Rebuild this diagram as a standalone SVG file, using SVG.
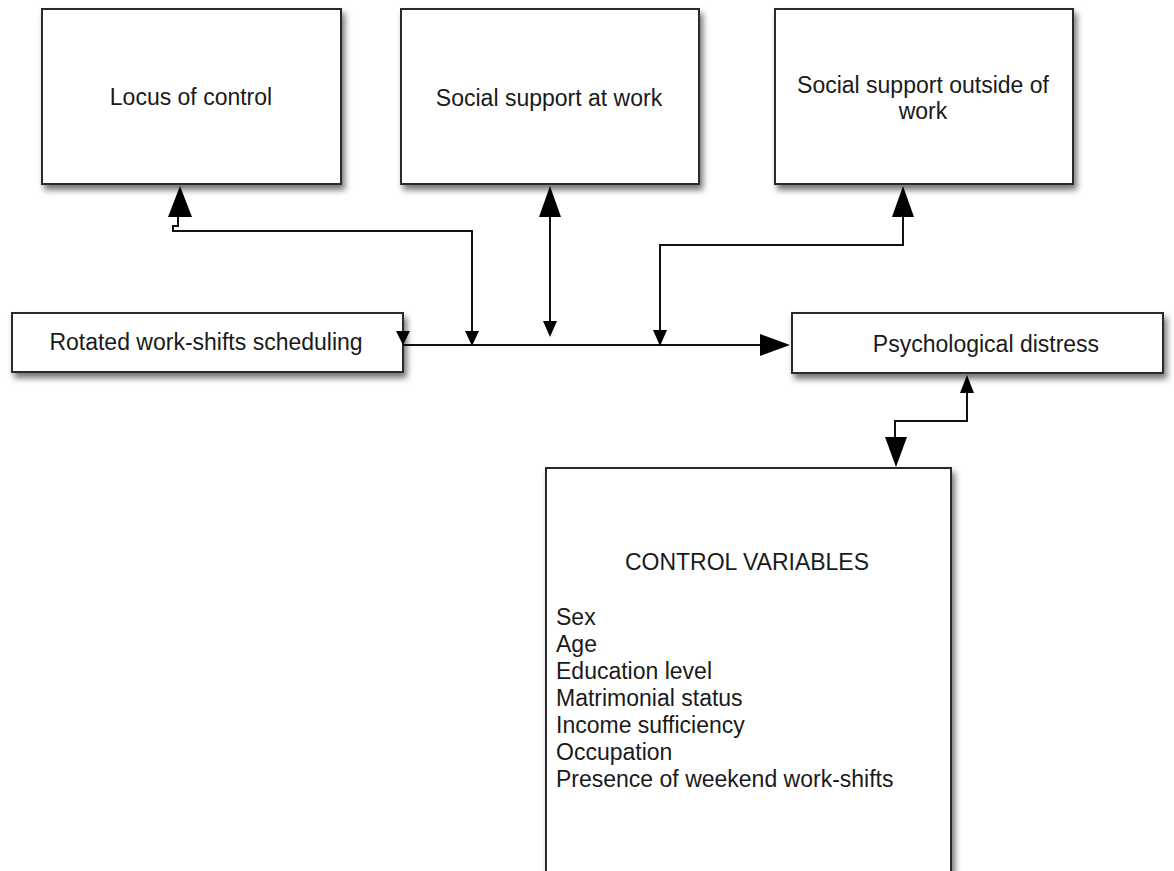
<svg xmlns="http://www.w3.org/2000/svg" width="1174" height="871" viewBox="0 0 1174 871">
<style>
.box{fill:#fff;stroke:#2a2a2a;stroke-width:2;filter:url(#sh)}
.t{font-family:"Liberation Sans",Arial,sans-serif;font-size:23px;fill:#1a1a1a}
.c{text-anchor:middle}
.ln{fill:none;stroke:#111;stroke-width:2}
.ah{fill:#000}
</style>
<defs>
<filter id="sh" x="-10%" y="-10%" width="125%" height="140%">
<feDropShadow dx="3" dy="5" stdDeviation="3" flood-color="#000" flood-opacity="0.55"/>
</filter>
</defs>
<rect width="1174" height="871" fill="#fff"/>
<g id="locus">
<rect class="box" x="42" y="9" width="299" height="175"/>
<text class="t c" x="191" y="105">Locus of control</text>
</g>
<g id="support-work">
<rect class="box" x="401" y="9" width="298" height="175"/>
<text class="t c" x="549" y="106">Social support at work</text>
</g>
<g id="support-outside">
<rect class="box" x="775" y="9" width="298" height="175"/>
<text class="t c" x="923" y="93">Social support outside of</text>
<text class="t c" x="923" y="119">work</text>
</g>
<g id="rotated">
<rect class="box" x="12" y="313" width="391" height="59"/>
<text class="t c" x="206" y="350">Rotated work-shifts scheduling</text>
</g>
<g id="distress">
<rect class="box" x="792" y="313" width="371" height="60"/>
<text class="t c" x="986" y="352">Psychological distress</text>
</g>
<g id="control">
<rect class="box" x="546" y="468" width="405" height="420"/>
<text class="t c" x="747" y="570">CONTROL VARIABLES</text>
<text class="t" x="556" y="625">Sex</text>
<text class="t" x="556" y="652">Age</text>
<text class="t" x="556" y="679">Education level</text>
<text class="t" x="556" y="706">Matrimonial status</text>
<text class="t" x="556" y="733">Income sufficiency</text>
<text class="t" x="556" y="760">Occupation</text>
<text class="t" x="556" y="787">Presence of weekend work-shifts</text>
</g>
<g id="connectors">
<!-- main line rotated -> distress -->
<path class="ln" d="M403,345 H762"/>
<polygon class="ah" points="790,345 760,334 760,356"/>
<polygon class="ah" points="403,345 396,331 410,331"/>
<!-- locus -->
<path class="ln" d="M178,215 V226 H173 V231 H472 V334"/>
<polygon class="ah" points="180,186 168,217 192,217"/>
<polygon class="ah" points="472,346 465,331 479,331"/>
<!-- social support at work -->
<path class="ln" d="M550,215 V324"/>
<polygon class="ah" points="550,186 539,217 561,217"/>
<polygon class="ah" points="550,337 543,321 557,321"/>
<!-- social support outside -->
<path class="ln" d="M903,215 V245 H660 V334"/>
<polygon class="ah" points="903,186 892,217 914,217"/>
<polygon class="ah" points="660,346 653,330 667,330"/>
<!-- distress <-> control -->
<path class="ln" d="M967,391 V421 H895 V440"/>
<polygon class="ah" points="967,375 960,393 974,393"/>
<polygon class="ah" points="896,467 885,437 907,437"/>
</g>
</svg>
